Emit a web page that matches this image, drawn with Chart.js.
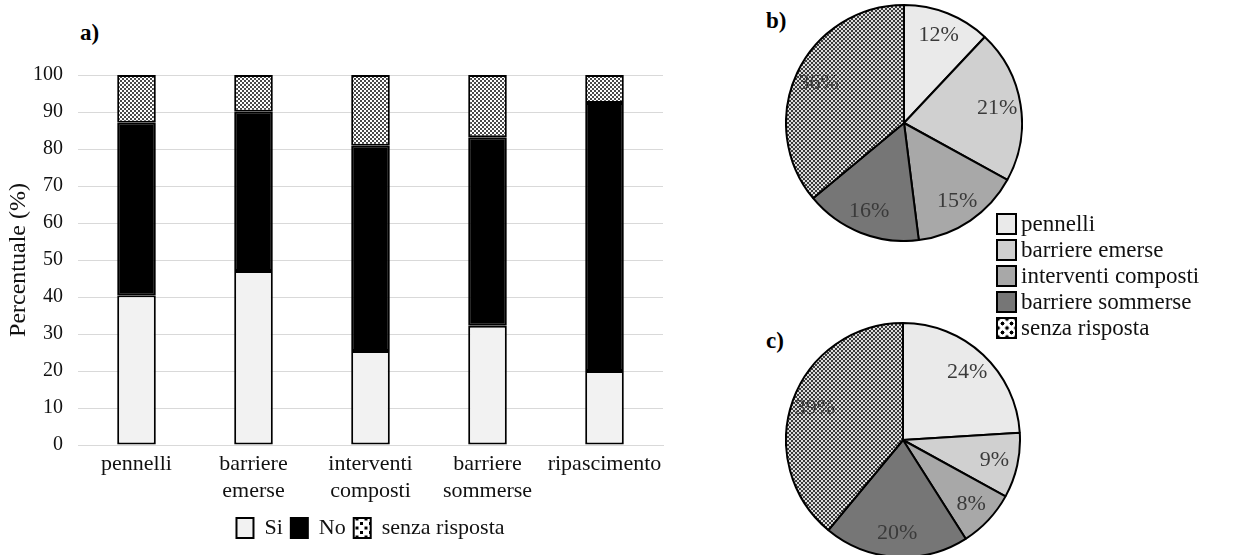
<!DOCTYPE html>
<html lang="it">
<head>
    <meta charset="UTF-8">
    <title>Risposte per tipo di intervento</title>
    <script src="https://cdn.jsdelivr.net/npm/chart.js"></script>
    <style>
        body { margin: 0; background: #fff; font-family: "Liberation Serif", "DejaVu Serif", serif; }
        .wrap { position: relative; width: 1234px; height: 555px; overflow: hidden; }
        .box { position: absolute; }
        .tag { position: absolute; font-weight: bold; font-size: 23px; color: #000; }
        #pie-legend { position: absolute; left: 996px; top: 211px; font-size: 23px; color: #111; font-family: "Liberation Serif", serif; }
        #pie-legend .row { height: 26px; display: flex; align-items: center; }
        #pie-legend .sw { width: 17px; height: 18px; border: 2px solid #000; margin-right: 4px; }
    </style>
</head>
<body>
<div class="wrap">
    <div class="tag" style="left:80px;top:20px">a)</div>
    <div class="tag" style="left:766px;top:8px">b)</div>
    <div class="tag" style="left:766px;top:328px">c)</div>

    <div class="box" style="left:0;top:0;width:720px;height:555px">
        <canvas id="bar-chart"></canvas>
    </div>
    <div class="box" style="left:785px;top:4px;width:238px;height:238px">
        <canvas id="pie-b"></canvas>
    </div>
    <div class="box" style="left:785px;top:322px;width:236px;height:236px">
        <canvas id="pie-c"></canvas>
    </div>
    <div id="pie-legend"></div>
</div>

<script>
    // bar chart data (a)
    const categories = [['pennelli'], ['barriere', 'emerse'], ['interventi', 'composti'], ['barriere', 'sommerse'], ['ripascimento']];
    const siValues = [40.5, 47, 25.4, 32.2, 20];
    const noValues = [46.6, 43.1, 55.5, 51, 72.4];
    const senzaValues = [12.9, 9.9, 19.1, 16.8, 7.6];
    const yTicks = [0, 10, 20, 30, 40, 50, 60, 70, 80, 90, 100];

    // pie data (b, c)
    const pieLabels = ['pennelli', 'barriere emerse', 'interventi composti', 'barriere sommerse', 'senza risposta'];
    const pieB = [12, 21, 15, 16, 36];
    const pieC = [24, 9, 8, 20, 39];

    const serif = '"Liberation Serif", serif';

    // dotted fill used for "senza risposta"
    function makePattern(bg, fg, size, dot) {
        const c = document.createElement('canvas');
        c.width = size; c.height = size;
        const g = c.getContext('2d');
        g.fillStyle = bg;
        g.fillRect(0, 0, size, size);
        g.fillStyle = fg;
        g.fillRect(0, 0, dot, dot);
        g.fillRect(size / 2, size / 2, dot, dot);
        return g.createPattern(c, 'repeat');
    }
    const barDots = makePattern('#ffffff', '#4a4a4a', 4, 2);
    const pieDots = makePattern('#dcdcdc', '#3a3a3a', 4, 2);
    const legendDots = makePattern('#ffffff', '#000000', 9, 3);
    const pieColors = ['#eaeaea', '#d0d0d0', '#a8a8a8', '#767676', pieDots];

    new Chart(document.getElementById('bar-chart'), {
        type: 'bar',
        data: {
            labels: categories,
            datasets: [
                { label: 'Si', data: siValues, backgroundColor: '#f2f2f2' },
                { label: 'No', data: noValues, backgroundColor: '#000000' },
                { label: 'senza risposta', data: senzaValues, backgroundColor: barDots }
            ]
        },
        options: {
            responsive: true,
            maintainAspectRatio: false,
            animation: false,
            layout: { padding: { top: 75, right: 57, bottom: 6, left: 4 } },
            datasets: {
                bar: {
                    borderColor: '#000', borderWidth: 2, borderSkipped: false,
                    barPercentage: 0.33, categoryPercentage: 1
                }
            },
            scales: {
                x: {
                    stacked: true,
                    grid: { display: false, drawTicks: false },
                    border: { color: '#d9d9d9', width: 1 },
                    ticks: { color: '#111', padding: 5, font: { family: serif, size: 22, lineHeight: 1.25 }, maxRotation: 0 },
                    afterFit(scale) { scale.height = 64; }
                },
                y: {
                    stacked: true,
                    min: 0, max: 100,
                    afterBuildTicks(scale) { scale.ticks = yTicks.map(v => ({ value: v })); },
                    grid: { color: '#d9d9d9', drawTicks: false },
                    border: { display: false },
                    ticks: { color: '#111', padding: 15, font: { family: serif, size: 20 } },
                    title: { display: true, text: 'Percentuale (%)', color: '#111', font: { family: serif, size: 24 }, padding: 0 },
                    afterFit(scale) { scale.width = 74; }
                }
            },
            plugins: {
                tooltip: { enabled: false },
                legend: {
                    position: 'bottom',
                    fullSize: false,
                    labels: {
                        color: '#111',
                        font: { family: serif, size: 22 },
                        boxWidth: 17, boxHeight: 20, padding: 8,
                        generateLabels(chart) {
                            const items = Chart.defaults.plugins.legend.labels.generateLabels(chart);
                            items.forEach(it => { it.strokeStyle = '#000'; it.lineWidth = 2; });
                            items[2].fillStyle = legendDots;
                            return items;
                        }
                    }
                }
            }
        }
    });

    // percent labels inside pie slices
    const sliceLabels = {
        id: 'sliceLabels',
        afterDatasetsDraw(chart) {
            const ctx = chart.ctx;
            const meta = chart.getDatasetMeta(0);
            const vals = chart.data.datasets[0].data;
            ctx.save();
            ctx.font = '22px ' + serif;
            ctx.fillStyle = '#3a3a3a';
            ctx.textAlign = 'center';
            ctx.textBaseline = 'middle';
            meta.data.forEach((arc, i) => {
                const p = arc.getProps(['x', 'y', 'startAngle', 'endAngle', 'outerRadius'], true);
                const a = (p.startAngle + p.endAngle) / 2;
                const r = p.outerRadius * 0.8;
                ctx.fillText(vals[i] + '%', p.x + Math.cos(a) * r, p.y + Math.sin(a) * r);
            });
            ctx.restore();
        }
    };

    function makePie(id, values) {
        new Chart(document.getElementById(id), {
            type: 'pie',
            data: {
                labels: pieLabels,
                datasets: [{ data: values, backgroundColor: pieColors, borderColor: '#000', borderWidth: 2 }]
            },
            options: {
                responsive: true,
                maintainAspectRatio: false,
                animation: false,
                plugins: { legend: { display: false }, tooltip: { enabled: false } }
            },
            plugins: [sliceLabels]
        });
    }
    makePie('pie-b', pieB);
    makePie('pie-c', pieC);

    // shared legend for the two pies
    const leg = document.getElementById('pie-legend');
    pieLabels.forEach((lab, i) => {
        const row = document.createElement('div');
        row.className = 'row';
        const sw = document.createElement('div');
        sw.className = 'sw';
        if (i === 4) {
            sw.style.background = 'radial-gradient(circle, #000 1.8px, transparent 2.2px) 0 0/9px 9px, radial-gradient(circle, #000 1.8px, transparent 2.2px) 4.5px 4.5px/9px 9px, #fff';
        } else {
            sw.style.background = pieColors[i];
        }
        const tx = document.createElement('span');
        tx.textContent = lab;
        row.appendChild(sw);
        row.appendChild(tx);
        leg.appendChild(row);
    });
</script>
</body>
</html>
